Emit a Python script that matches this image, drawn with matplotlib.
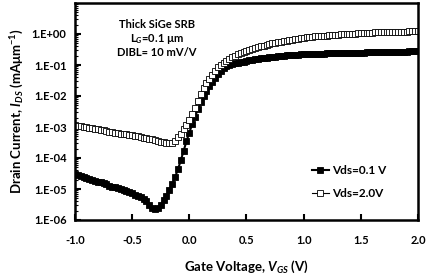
import numpy as np
import matplotlib
matplotlib.use("Agg")
import matplotlib.pyplot as plt
from matplotlib.ticker import LogLocator, FuncFormatter, NullFormatter

plt.rcParams['font.family'] = ['Lato', 'DejaVu Sans']
plt.rcParams['font.weight'] = 'bold'
plt.rcParams['mathtext.fontset'] = 'custom'
plt.rcParams['mathtext.rm'] = 'Lato:bold'
plt.rcParams['mathtext.it'] = 'Lato:italic:bold'
plt.rcParams['mathtext.bf'] = 'Lato:bold'
plt.rcParams['axes.unicode_minus'] = False

# Gate voltage sweep (V), 25 mV step
vgs = np.round(np.arange(-1.0, 2.0001, 0.025), 3)

# log10 of drain current (mA/um)
log_ids_01 = [
    -4.53, -4.56, -4.58, -4.61, -4.64, -4.67, -4.70, -4.73, -4.76, -4.79,
    -4.82, -4.85, -4.89, -4.92, -4.95, -4.98, -5.01, -5.04, -5.07, -5.11,
    -5.14, -5.18, -5.22, -5.26, -5.31, -5.38, -5.50, -5.62, -5.65, -5.60,
    -5.50, -5.37, -5.22, -5.04, -4.84, -4.62, -4.37, -4.08, -3.77, -3.46,
    -3.18, -2.91, -2.67, -2.42, -2.19, -2.00, -1.84, -1.69, -1.55, -1.41,
    -1.28, -1.18, -1.10, -1.04, -1.00, -0.97, -0.95, -0.93, -0.91, -0.89,
    -0.87, -0.85, -0.83, -0.82, -0.80, -0.79, -0.77, -0.76, -0.75, -0.74,
    -0.73, -0.72, -0.71, -0.70, -0.69, -0.69, -0.68, -0.67, -0.67, -0.66,
    -0.65, -0.65, -0.64, -0.64, -0.64, -0.63, -0.63, -0.63, -0.62, -0.62,
    -0.62, -0.62, -0.61, -0.61, -0.61, -0.61, -0.61, -0.60, -0.60, -0.60,
    -0.60, -0.60, -0.59, -0.59, -0.59, -0.59, -0.59, -0.58, -0.58, -0.58,
    -0.58, -0.58, -0.57, -0.57, -0.57, -0.57, -0.57, -0.56, -0.56, -0.56,
    -0.56,
]
log_ids_20 = [
    -2.94, -2.96, -2.98, -2.99, -3.01, -3.03, -3.04, -3.06, -3.08, -3.09,
    -3.11, -3.13, -3.15, -3.16, -3.18, -3.19, -3.21, -3.22, -3.24, -3.25,
    -3.27, -3.29, -3.30, -3.32, -3.34, -3.36, -3.38, -3.40, -3.42, -3.44,
    -3.47, -3.49, -3.51, -3.52, -3.51, -3.44, -3.33, -3.21, -3.08, -2.93,
    -2.77, -2.59, -2.40, -2.15, -1.93, -1.74, -1.59, -1.45, -1.31, -1.18,
    -1.08, -0.99, -0.93, -0.87, -0.81, -0.75, -0.71, -0.66, -0.61, -0.58,
    -0.55, -0.51, -0.49, -0.46, -0.43, -0.40, -0.38, -0.35, -0.33, -0.30,
    -0.28, -0.27, -0.25, -0.23, -0.22, -0.20, -0.18, -0.17, -0.15, -0.14,
    -0.12, -0.11, -0.10, -0.09, -0.08, -0.07, -0.06, -0.05, -0.05, -0.04,
    -0.03, -0.02, -0.02, -0.01, -0.01, 0.00, 0.00, 0.01, 0.01, 0.02,
    0.02, 0.03, 0.03, 0.04, 0.04, 0.05, 0.05, 0.05, 0.06, 0.06,
    0.06, 0.07, 0.07, 0.07, 0.08, 0.08, 0.08, 0.09, 0.09, 0.09,
    0.10,
]
ids_01 = 10.0 ** np.array(log_ids_01)
ids_20 = 10.0 ** np.array(log_ids_20)

labels = ["Vds=0.1 V", "Vds=2.0V"]
x_ticks = [-1.0, -0.5, 0.0, 0.5, 1.0, 1.5, 2.0]

fig = plt.figure(figsize=(4.28, 2.80), dpi=100)
ax = fig.add_axes([75/428, 1-220/280, (418-75)/428, (220-3)/280])

ax.plot(vgs, ids_01, color='black', lw=1.5, marker='s', ms=3.8,
        mfc='black', mec='black', mew=0.6, label=labels[0])
ax.plot(vgs, ids_20, color='black', lw=0.8, marker='s', ms=4.0,
        mfc='white', mec='black', mew=0.6, label=labels[1])

ax.set_yscale('log')
ax.set_xlim(-1.0, 2.0)
ax.set_ylim(1e-6, 1e1)
ax.set_xticks(x_ticks)
ax.set_xticklabels([f"{v:.1f}" for v in x_ticks])
ax.set_yticks([10.0**e for e in range(-6, 1)])
ax.yaxis.set_major_formatter(FuncFormatter(lambda v, p: f"1.E{int(round(np.log10(v))):+03d}"))
ax.yaxis.set_minor_locator(LogLocator(base=10, subs=np.arange(2, 10)))
ax.yaxis.set_minor_formatter(NullFormatter())

ax.tick_params(axis='both', which='major', direction='in', length=4, width=1.5,
               labelsize=8, pad=6)
ax.tick_params(axis='x', pad=11)
ax.tick_params(axis='y', which='minor', direction='in', length=2, width=0.8)
ax.tick_params(top=False, right=False)
for s in ax.spines.values():
    s.set_linewidth(1.8)
for lab in ax.get_xticklabels() + ax.get_yticklabels():
    lab.set_fontweight('bold')

ax.set_xlabel("Gate Voltage, $V_{GS}$ (V)", fontsize=9.5, fontweight='bold', labelpad=9)
ax.set_ylabel("Drain Current, $I_{DS}$ (mAμm$^{-1}$)", fontsize=9.5, fontweight='bold', labelpad=4)

fig.text(157/428, 1-24/280, "Thick SiGe SRB", ha='center', va='center', fontsize=8, fontweight='bold')
fig.text(157/428, 1-39/280, "L$_G$=0.1 µm", ha='center', va='center', fontsize=8, fontweight='bold')
fig.text(157/428, 1-53/280, "DIBL= 10 mV/V", ha='center', va='center', fontsize=8, fontweight='bold')

leg = ax.legend(loc='upper left', bbox_to_anchor=(312/428, 1-165/280),
                bbox_transform=fig.transFigure, frameon=False, fontsize=8.5,
                handlelength=1.4, handletextpad=0.3, borderpad=0, borderaxespad=0,
                labelspacing=1.0, markerscale=1.0)
for t in leg.get_texts():
    t.set_fontweight('bold')

fig.savefig("out.png", dpi=100)
